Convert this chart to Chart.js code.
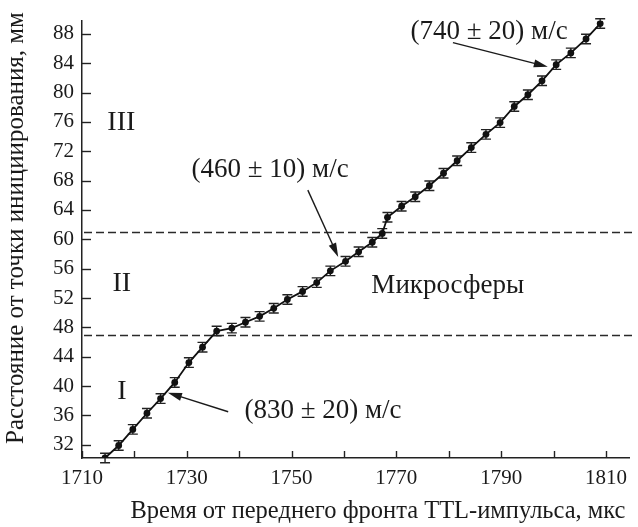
<!DOCTYPE html>
<html>
<head>
<meta charset="utf-8">
<script src="https://cdn.jsdelivr.net/npm/chart.js@4.4.1/dist/chart.umd.min.js"></script>
<style>
  html, body { margin: 0; padding: 0; background: #fff; }
  #wrap { width: 638px; height: 527px; }
</style>
</head>
<body>
<div id="wrap"><canvas id="myChart" width="638" height="527"></canvas></div>
<script>
// time from TTL pulse front, us
var timeUs = [1714.4, 1717.0, 1719.7, 1722.4, 1725.0, 1727.7, 1730.4, 1733.0, 1735.7,
              1738.6, 1741.2, 1743.9, 1746.6, 1749.2, 1752.1, 1754.8, 1757.4, 1760.3,
              1762.8, 1765.4, 1767.3, 1768.3, 1771.0, 1773.6, 1776.3, 1779.0, 1781.6,
              1784.3, 1787.1, 1789.8, 1792.5, 1795.1, 1797.8, 1800.5, 1803.3, 1806.2, 1808.9];
// distance from initiation point, mm
var distMm = [30.2, 31.9, 34.1, 36.3, 38.3, 40.5, 43.2, 45.3, 47.5,
              47.9, 48.7, 49.5, 50.6, 51.8, 52.9, 54.1, 55.7, 57.0,
              58.3, 59.6, 60.8, 63.0, 64.5, 65.8, 67.3, 69.0, 70.7,
              72.5, 74.3, 75.9, 78.1, 79.7, 81.6, 83.8, 85.4, 87.3, 89.4];
var errMm = [0.65, 0.65, 0.65, 0.65, 0.65, 0.65, 0.65, 0.65, 0.65,
             0.65, 0.65, 0.65, 0.65, 0.65, 0.65, 0.65, 0.65, 0.65,
             0.65, 0.65, 0.65, 0.65, 0.65, 0.65, 0.65, 0.65, 0.65,
             0.65, 0.65, 0.65, 0.65, 0.65, 0.65, 0.65, 0.65, 0.65, 0.65];

var xTicks = [1710, 1720, 1730, 1740, 1750, 1760, 1770, 1780, 1790, 1800, 1810];
var xTickLabels = ['1710', '', '1730', '', '1750', '', '1770', '', '1790', '', '1810'];
var yTicks = [32, 36, 40, 44, 48, 52, 56, 60, 64, 68, 72, 76, 80, 84, 88];

var boundaries = [47, 61];
var zoneLabels = ['I', 'II', 'III'];
var speedLabels = ['(830 ± 20) м/с', '(460 ± 10) м/с', '(740 ± 20) м/с'];
var layerLabel = 'Микросферы';
var xTitle = 'Время от переднего фронта TTL-импульса, мкс';
var yTitle = 'Расстояние от точки инициирования, мм';

var SERIF = '"Liberation Serif", "Times New Roman", serif';
var INK = '#1a1a1a';

function arrow(ctx, x1, y1, x2, y2) {
    var a = Math.atan2(y2 - y1, x2 - x1);
    var len = 14, w = 4;
    ctx.beginPath();
    ctx.moveTo(x1, y1);
    ctx.lineTo(x2 - len * 0.7 * Math.cos(a), y2 - len * 0.7 * Math.sin(a));
    ctx.stroke();
    ctx.beginPath();
    ctx.moveTo(x2, y2);
    ctx.lineTo(x2 - len * Math.cos(a) + w * Math.sin(a), y2 - len * Math.sin(a) - w * Math.cos(a));
    ctx.lineTo(x2 - len * Math.cos(a) - w * Math.sin(a), y2 - len * Math.sin(a) + w * Math.cos(a));
    ctx.closePath();
    ctx.fill();
}

var extras = {
    id: 'extras',
    beforeDatasetsDraw: function(chart) {
        var ctx = chart.ctx, xs = chart.scales.x, ys = chart.scales.y, area = chart.chartArea;
        ctx.save();
        // zone boundaries
        ctx.strokeStyle = '#2a2a2a';
        ctx.lineWidth = 1.6;
        ctx.setLineDash([8, 4]);
        boundaries.forEach(function(b) {
            var py = Math.round(ys.getPixelForValue(b)) + 0.5;
            ctx.beginPath();
            ctx.moveTo(area.left + 2, py);
            ctx.lineTo(area.right + 3, py);
            ctx.stroke();
        });
        ctx.setLineDash([]);
        // error bars
        ctx.strokeStyle = '#222';
        ctx.lineWidth = 1.4;
        timeUs.forEach(function(t, i) {
            var px = xs.getPixelForValue(t);
            var top = ys.getPixelForValue(distMm[i] + errMm[i]);
            var bot = ys.getPixelForValue(distMm[i] - errMm[i]);
            ctx.beginPath();
            ctx.moveTo(px, top); ctx.lineTo(px, bot);
            ctx.moveTo(px - 5, top); ctx.lineTo(px + 5, top);
            ctx.moveTo(px - 5, bot); ctx.lineTo(px + 5, bot);
            ctx.stroke();
        });
        ctx.restore();
    },
    afterDraw: function(chart) {
        var ctx = chart.ctx, xs = chart.scales.x, ys = chart.scales.y, area = chart.chartArea;
        ctx.save();
        // inward tick marks
        ctx.strokeStyle = '#222';
        ctx.lineWidth = 1.4;
        yTicks.forEach(function(v) {
            var py = Math.round(ys.getPixelForValue(v)) + 0.5;
            ctx.beginPath(); ctx.moveTo(area.left, py); ctx.lineTo(area.left + 9, py); ctx.stroke();
        });
        xTicks.forEach(function(v) {
            var px = Math.round(xs.getPixelForValue(v)) + 0.5;
            ctx.beginPath(); ctx.moveTo(px, area.bottom); ctx.lineTo(px, area.bottom - 7); ctx.stroke();
        });

        ctx.fillStyle = INK;
        ctx.textAlign = 'center';
        ctx.textBaseline = 'middle';
        ctx.font = '28px ' + SERIF;
        var zonePos = [[1717.6, 39.2], [1717.6, 54.0], [1717.5, 75.9]];
        zoneLabels.forEach(function(s, i) {
            ctx.fillText(s, xs.getPixelForValue(zonePos[i][0]), ys.getPixelForValue(zonePos[i][1]));
        });
        ctx.font = '27px ' + SERIF;
        var speedPos = [[1756.0, 36.6], [1745.9, 69.4], [1787.7, 88.3]];
        speedLabels.forEach(function(s, i) {
            ctx.fillText(s, xs.getPixelForValue(speedPos[i][0]), ys.getPixelForValue(speedPos[i][1]));
        });
        ctx.fillText(layerLabel, xs.getPixelForValue(1779.8), ys.getPixelForValue(53.7));

        // arrows to the fitted segments
        ctx.strokeStyle = INK;
        ctx.lineWidth = 1.4;
        var arrows = [[1737.9, 36.5, 1726.4, 39.1], [1753.1, 66.7, 1758.9, 57.6], [1780.8, 86.8, 1798.9, 83.5]];
        arrows.forEach(function(a) {
            arrow(ctx, xs.getPixelForValue(a[0]), ys.getPixelForValue(a[1]),
                       xs.getPixelForValue(a[2]), ys.getPixelForValue(a[3]));
        });

        // axis titles
        ctx.font = '24.5px ' + SERIF;
        ctx.fillText(xTitle, 378, 512);
        ctx.font = '25px ' + SERIF;
        ctx.translate(16, 228);
        ctx.rotate(-Math.PI / 2);
        ctx.fillText(yTitle, 0, 0);
        ctx.restore();
    }
};

var chart = new Chart(document.getElementById('myChart'), {
    type: 'scatter',
    data: {
        datasets: [{
            data: timeUs.map(function(t, i) { return { x: t, y: distMm[i] }; }),
            showLine: true,
            borderColor: '#111',
            borderWidth: 1.8,
            backgroundColor: '#111',
            pointRadius: 3.4,
            pointBorderWidth: 0,
            tension: 0
        }]
    },
    options: {
        responsive: false,
        animation: false,
        devicePixelRatio: 1,
        layout: { padding: { left: 0, top: 20, right: 9, bottom: 0 } },
        plugins: { legend: { display: false }, tooltip: { enabled: false } },
        scales: {
            x: {
                type: 'linear',
                min: 1710,
                max: 1814.4,
                afterFit: function(scale) { scale.height = 69; },
                afterBuildTicks: function(scale) { scale.ticks = xTicks.map(function(v) { return { value: v }; }); },
                grid: { display: false, drawTicks: false },
                border: { display: true, color: '#222', width: 1.5 },
                ticks: {
                    padding: 8,
                    maxRotation: 0,
                    autoSkip: false,
                    color: INK,
                    font: { family: SERIF, size: 21 },
                    callback: function(v, i) { return xTickLabels[i]; }
                }
            },
            y: {
                min: 30.2,
                max: 89.8,
                afterFit: function(scale) { scale.width = 82; },
                afterBuildTicks: function(scale) { scale.ticks = yTicks.map(function(v) { return { value: v }; }); },
                grid: { display: false, drawTicks: false },
                border: { display: true, color: '#222', width: 1.5 },
                ticks: {
                    padding: 8,
                    autoSkip: false,
                    color: INK,
                    font: { family: SERIF, size: 21 },
                    callback: function(v) { return String(v); }
                }
            }
        }
    },
    plugins: [extras]
});
</script>
</body>
</html>
